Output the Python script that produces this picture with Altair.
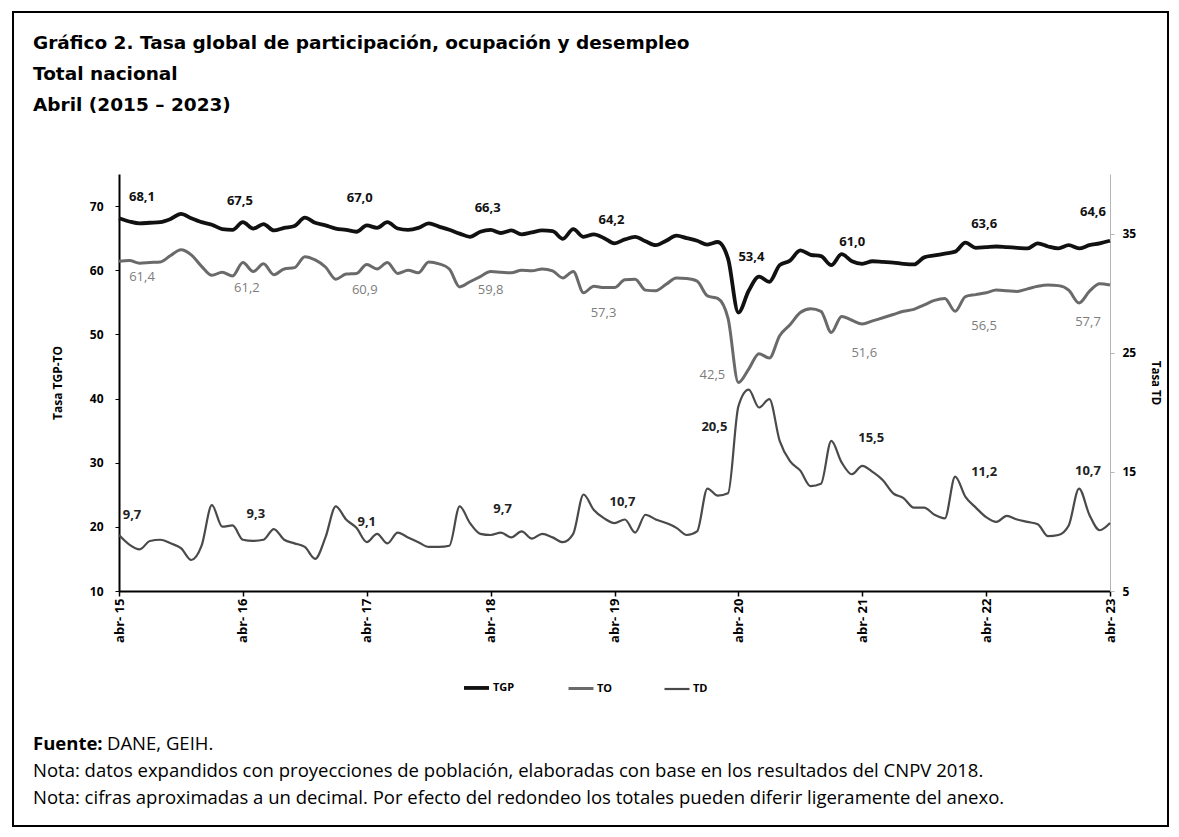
import altair as alt
import pandas as pd

# ---------------- data ----------------
meses = ["abr", "may", "jun", "jul", "ago", "sep", "oct", "nov", "dic", "ene", "feb", "mar"]
series = ["TGP", "TO", "TD"]

tgp = [
    68.1, 67.6, 67.3, 67.4, 67.5, 68.0, 68.8, 68.1, 67.5, 67.1, 66.4, 66.3,
    67.5, 66.5, 67.2, 66.2, 66.6, 66.9, 68.2, 67.4, 67.0, 66.5, 66.3, 66.0,
    67.0, 66.6, 67.5, 66.5, 66.3, 66.6, 67.3, 66.8, 66.3, 65.7, 65.2, 66.0,
    66.3, 65.8, 66.2, 65.6, 65.9, 66.2, 66.1, 64.9, 66.4, 65.2, 65.6, 65.0,
    64.2, 64.8, 65.2, 64.5, 63.9, 64.6, 65.4, 65.0, 64.6, 64.0, 64.4, 61.8,
    53.4, 56.8, 59.0, 58.2, 60.8, 61.5, 63.1, 62.4, 62.2, 60.8, 62.5, 61.4,
    61.0, 61.4, 61.3, 61.2, 61.0, 60.9, 62.0, 62.3, 62.6, 62.9, 64.3, 63.5,
    63.6, 63.7, 63.6, 63.5, 63.4, 64.2, 63.7, 63.4, 63.9, 63.4, 63.9, 64.2,
    64.6,
]
to = [
    61.4, 61.5, 61.1, 61.2, 61.3, 62.3, 63.2, 62.4, 60.6, 59.2, 59.7, 59.1,
    61.2, 59.8, 61.0, 59.3, 60.2, 60.4, 62.1, 61.6, 60.5, 58.6, 59.4, 59.5,
    60.9, 60.2, 61.2, 59.5, 60.0, 59.6, 61.3, 61.0, 60.2, 57.4, 58.2, 59.0,
    59.8, 59.7, 59.6, 60.0, 59.9, 60.2, 59.9, 58.8, 59.8, 56.5, 57.5, 57.3,
    57.3, 58.5, 58.6, 56.9, 56.8, 57.8, 58.8, 58.7, 58.3, 56.0, 55.6, 52.5,
    42.5, 44.6, 47.0, 46.3, 49.8, 51.5, 53.4, 54.0, 53.6, 50.3, 52.8, 52.2,
    51.6, 52.1, 52.6, 53.1, 53.6, 53.9, 54.6, 55.3, 55.6, 53.6, 55.9, 56.2,
    56.5, 56.9, 56.8, 56.7, 57.1, 57.5, 57.7, 57.6, 56.9, 54.9, 56.7, 57.9,
    57.7,
]
td = [
    9.7, 8.9, 8.5, 9.2, 9.3, 9.0, 8.6, 7.6, 8.8, 12.2, 10.4, 10.5,
    9.3, 9.2, 9.3, 10.2, 9.3, 9.0, 8.7, 7.7, 9.5, 12.1, 11.0, 10.3,
    9.1, 9.8, 9.0, 9.9, 9.5, 9.1, 8.7, 8.7, 8.8, 12.1, 10.7, 9.8,
    9.7, 9.9, 9.5, 10.0, 9.4, 9.8, 9.5, 9.1, 9.8, 13.1, 11.8, 11.1,
    10.7, 11.0, 9.9, 11.4, 11.0, 10.7, 10.3, 9.7, 10.0, 13.6, 13.0, 13.2,
    20.5, 21.9, 20.4, 21.1, 17.6, 15.9, 15.1, 13.8, 14.0, 17.6, 15.8, 14.8,
    15.5, 15.0, 14.3, 13.2, 12.8, 12.0, 12.0, 11.4, 11.1, 14.6, 12.9, 12.0,
    11.2, 10.8, 11.3, 11.0, 10.8, 10.6, 9.6, 9.7, 10.5, 13.6, 11.4, 10.1,
    10.7,
]

titulo = [
    "Gráfico 2. Tasa global de participación, ocupación y desempleo",
    "Total nacional",
    "Abril (2015 – 2023)",
]
fuente_rotulo = "Fuente:"
fuente_texto = "DANE, GEIH."
notas = [
    "Nota: datos expandidos con proyecciones de población, elaboradas con base en los resultados del CNPV 2018.",
    "Nota: cifras aproximadas a un decimal. Por efecto del redondeo los totales pueden diferir ligeramente del anexo.",
]

# ---------------- tables ----------------
n = len(tgp)
periodos = [f"{meses[k % 12]}-{15 + (k + 3) // 12:02d}" for k in range(n)]
rows = []
for serie, vals in zip(series, [tgp, to, td]):
    for k, v in enumerate(vals):
        rows.append({"idx": k, "periodo": periodos[k], "serie": serie, "valor": v})
df = pd.DataFrame(rows)
lab = df[df["idx"] % 12 == 0].copy()
lab["etiqueta"] = lab["valor"].map(lambda v: f"{v:.1f}".replace(".", ","))

# ---------------- layout ----------------
W, H = 991, 417
PAD = {"left": 111, "top": 166, "right": 60, "bottom": 237}
FONT = "Open Sans"
HFONT = "DejaVu Sans"

# label offsets (pixels) for the April annotations, by year 2015..2023
off = {
    "TGP": ([23, -3, -7, -3, -3, 13, -10, -2, -17], [-21.5, -21, -27, -22, -23, -56, -22, -23, -29]),
    "TO": ([23, 4, -2, 0, -11, -26, 2, -2, -22], [15.5, 25, 25.6, 18, 25, -8, 29, 33, 37]),
    "TD": ([13, 13, 0, 12, 8, -24, 9, -2, -22], [-20, -25.5, -20.5, -26, -21.5, 21, -27.5, -45, -52]),
}


def arr_expr(vals):
    return alt.expr("[" + ",".join(str(v) for v in vals) + "][round(datum.idx/12)]")


x_enc = alt.X(
    "idx:Q",
    scale=alt.Scale(domain=[0, n - 1], nice=False, zero=False),
    axis=alt.Axis(
        values=list(range(0, n, 12)),
        labelExpr="'abr- ' + (15 + datum.value/12)",
        labelAngle=270,
        title=None,
        grid=False,
        domainColor="black",
        domainWidth=2,
        tickColor="black",
        tickSize=5,
        tickWidth=1.5,
        labelFont=FONT,
        labelFontSize=13,
        labelFontWeight="bold",
        labelColor="black",
        labelPadding=2,
    ),
)

y_left = alt.Y(
    "valor:Q",
    scale=alt.Scale(domain=[10, 75], nice=False, zero=False),
    axis=alt.Axis(
        orient="left",
        values=[10, 20, 30, 40, 50, 60, 70],
        title="Tasa TGP-TO",
        titleFont=FONT,
        titleFontSize=12,
        titleFontWeight="bold",
        titleColor="black",
        titlePadding=25,
        grid=False,
        domainColor="black",
        domainWidth=2,
        tickColor="black",
        tickSize=4,
        labelFont=FONT,
        labelFontSize=12,
        labelFontWeight="bold",
        labelColor="black",
        labelPadding=12,
    ),
)

y_right = alt.Y(
    "valor:Q",
    scale=alt.Scale(domain=[5, 40], nice=False, zero=False),
    axis=alt.Axis(
        orient="right",
        values=[5, 15, 25, 35],
        title="Tasa TD",
        titleFont=FONT,
        titleFontSize=11.5,
        titleFontWeight="bold",
        titleColor="black",
        titlePadding=14,
        grid=False,
        domainColor="#b5b5b5",
        domainWidth=1,
        tickColor="#b5b5b5",
        tickSize=4,
        labelFont=FONT,
        labelFontSize=12,
        labelFontWeight="bold",
        labelColor="black",
        labelPadding=8,
    ),
)

leg = alt.Legend(
    title=None,
    orient="none",
    legendX=343,
    legendY=499,
    direction="horizontal",
    symbolType="stroke",
    symbolSize=625,
    labelFont=FONT,
    labelFontSize=11,
    labelFontWeight="bold",
    labelColor="black",
    labelOffset=2,
    columnPadding=47,
)
color_enc = alt.Color(
    "serie:N",
    scale=alt.Scale(domain=series, range=["#111111", "#6a6a6a", "#4a4a4a"]),
    legend=leg,
)
sw_enc = alt.StrokeWidth(
    "serie:N",
    scale=alt.Scale(domain=series, range=[3.8, 2.2, 2.2]),
    legend=leg,
)

left_lines = alt.Chart(df[df["serie"].isin(["TGP", "TO"])]).mark_line(
    interpolate="monotone"
).encode(x=x_enc, y=y_left, color=color_enc, strokeWidth=sw_enc, detail="serie:N")

tgp_lab = alt.Chart(lab[lab["serie"] == "TGP"]).mark_text(
    font=FONT, fontSize=13, fontWeight="bold", color="#111111", baseline="middle",
    dx=arr_expr(off["TGP"][0]), dy=arr_expr(off["TGP"][1]),
).encode(x=x_enc, y=y_left, text="etiqueta:N")

to_lab = alt.Chart(lab[lab["serie"] == "TO"]).mark_text(
    font=FONT, fontSize=13, color="#7d7d7d", baseline="middle",
    dx=arr_expr(off["TO"][0]), dy=arr_expr(off["TO"][1]),
).encode(x=x_enc, y=y_left, text="etiqueta:N")

left_group = alt.layer(left_lines, tgp_lab, to_lab)

td_line = alt.Chart(df[df["serie"] == "TD"]).mark_line(
    interpolate="monotone"
).encode(x=x_enc, y=y_right, color=color_enc, strokeWidth=sw_enc, detail="serie:N")

td_lab = alt.Chart(lab[lab["serie"] == "TD"]).mark_text(
    font=FONT, fontSize=13, fontWeight="bold", color="#222222", baseline="middle",
    dx=arr_expr(off["TD"][0]), dy=arr_expr(off["TD"][1]),
).encode(x=x_enc, y=y_right, text="etiqueta:N")

td_group = alt.layer(td_line, td_lab)

# decorations: frame, heading, source notes
one = pd.DataFrame({"k": [0]})
frame = alt.Chart(one).mark_rect(
    fill="transparent", stroke="black", strokeWidth=2
).encode(
    x=alt.value(-106), x2=alt.value(1049), y=alt.value(-162), y2=alt.value(652)
)

head = alt.Chart(pd.DataFrame({"t": ["\n".join(titulo)]})).mark_text(
    font=HFONT, fontSize=18.5, fontWeight="bold", color="black", align="left",
    baseline="alphabetic", lineBreak="\n", lineHeight=31,
).encode(x=alt.value(-86), y=alt.value(-125), text="t:N")

src1 = alt.Chart(pd.DataFrame({"t": [fuente_rotulo]})).mark_text(
    font=FONT, fontSize=18.5, fontWeight="bold", color="black", align="left", baseline="alphabetic",
).encode(x=alt.value(-86), y=alt.value(576), text="t:N")

src2 = alt.Chart(pd.DataFrame({"t": [fuente_texto]})).mark_text(
    font=FONT, fontSize=18.5, color="black", align="left", baseline="alphabetic",
).encode(x=alt.value(-12), y=alt.value(576), text="t:N")

notes = alt.Chart(pd.DataFrame({"t": ["\n".join(notas)]})).mark_text(
    font=FONT, fontSize=18.5, color="black", align="left", baseline="alphabetic",
    lineBreak="\n", lineHeight=27,
).encode(x=alt.value(-86), y=alt.value(603), text="t:N")

chart = alt.layer(
    frame, head, left_group, td_group, src1, src2, notes
).resolve_scale(y="independent").properties(
    width=W,
    height=H,
    padding=PAD,
    autosize=alt.AutoSizeParams(type="none"),
    background="white",
).configure_view(stroke=None)

chart.save("out.html", embed_options={"renderer": "svg", "actions": False})
